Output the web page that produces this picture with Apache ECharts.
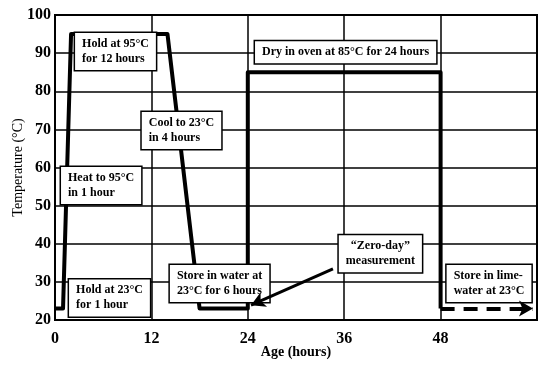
<!DOCTYPE html>
<html>
<head>
<meta charset="utf-8">
<script src="https://cdn.jsdelivr.net/npm/echarts@6/dist/echarts.min.js"></script>
<style>
  html, body { margin: 0; padding: 0; background: #fff; }
  #chart { width: 539px; height: 366px; }
</style>
</head>
<body>
<div id="chart"></div>
<script>
// Curing temperature history: age in hours vs. temperature in °C
const ageHours = [0, 1, 2, 14, 18, 24, 24, 48, 48];
const tempC    = [23, 23, 95, 95, 23, 23, 85, 85, 23];

// Continued storage after the oven stage (dashed arrow)
const storeFrom = [48, 23];
const storeTo   = [59.5, 23];

// Pointer from the "zero-day" note to the end of the water storage
const pointerFrom = [34.6, 33.4];
const pointerTo   = [24.4, 23.9];

const xTicks = [0, 12, 24, 36, 48];

// Annotation boxes: text, anchor point (hours, °C) and how the box sits on it
// ('left' = box starts at the anchor, 'center' = box centred on it)
const noteText = [
  'Hold at 95°C\nfor 12 hours',
  'Cool to 23°C\nin 4 hours',
  'Heat to 95°C\nin 1 hour',
  'Hold at 23°C\nfor 1 hour',
  'Store in water at\n23°C for 6 hours',
  'Dry in oven at 85°C for 24 hours',
  '“Zero-day”\nmeasurement',
  'Store in lime-\nwater at 23°C'
];
const noteHours = [2.5, 10.8, 0.75, 1.75, 14.3, 24.9, 40.5, 48.75];
const noteTemp  = [90.4, 69.7, 55.3, 25.8, 29.6, 90.2, 37.4, 29.6];
const noteAlign = ['left', 'left', 'left', 'left', 'left', 'left', 'center', 'left'];

const serif = '"Liberation Serif", "DejaVu Serif", serif';

const chart = echarts.init(document.getElementById('chart'), null, { renderer: 'canvas' });

const curve = ageHours.map((h, i) => [h, tempC[i]]);
const notes = noteHours.map((h, i) => ({
  value: [h, noteTemp[i]],
  label: { align: noteAlign[i] }
}));

chart.setOption({
  animation: false,
  backgroundColor: '#fff',
  grid: {
    left: 55, top: 15, right: 2, bottom: 46,
    containLabel: false, outerBoundsMode: 'none',
    show: true, borderColor: '#000', borderWidth: 2
  },
  xAxis: {
    type: 'value',
    min: 0, max: 60, interval: 12,
    name: 'Age (hours)',
    nameLocation: 'middle',
    nameGap: 25,
    nameMoveOverlap: false,
    nameTextStyle: { fontFamily: serif, fontSize: 14, fontWeight: 'bold', color: '#000' },
    axisLine: { show: true, lineStyle: { color: '#000', width: 2 } },
    axisTick: { show: false },
    axisLabel: {
      margin: 11,
      fontFamily: serif, fontSize: 16, fontWeight: 'bold', color: '#000',
      formatter: v => (xTicks.includes(v) ? String(v) : '')
    },
    splitLine: { show: true, lineStyle: { color: '#000', width: 1.5 } }
  },
  yAxis: {
    type: 'value',
    min: 20, max: 100, interval: 10,
    name: 'Temperature (°C)',
    nameLocation: 'middle',
    nameGap: 30,
    nameMoveOverlap: false,
    nameTextStyle: { fontFamily: serif, fontSize: 14, color: '#000' },
    axisLine: { show: true, lineStyle: { color: '#000', width: 2 } },
    axisTick: { show: false },
    axisLabel: { margin: 4, fontFamily: serif, fontSize: 16, fontWeight: 'bold', color: '#000' },
    splitLine: { show: true, lineStyle: { color: '#000', width: 1.5 } }
  },
  series: [
    {
      // temperature history
      type: 'line',
      data: curve,
      symbol: 'none',
      lineStyle: { color: '#000', width: 4, join: 'round' },
      z: 3
    },
    {
      // annotation boxes
      type: 'scatter',
      data: notes,
      symbolSize: 0,
      z: 5,
      itemStyle: { opacity: 1, color: '#000' },
      label: {
        show: true,
        position: 'inside',
        verticalAlign: 'middle',
        formatter: p => noteText[p.dataIndex],
        fontFamily: serif,
        fontSize: 12,
        fontWeight: 'bold',
        lineHeight: 15,
        color: '#000',
        backgroundColor: '#fff',
        borderColor: '#000',
        borderWidth: 1.5,
        padding: [4, 7, 3, 7]
      }
    },
    {
      // arrows drawn on top of the boxes
      type: 'line',
      data: [],
      z: 8,
      markLine: {
        silent: true,
        z: 8,
        symbol: ['none', 'arrow'],
        symbolSize: [12, 14],
        label: { show: false },
        data: [
          [
            { coord: storeFrom, lineStyle: { type: [14, 9], width: 4, color: '#000' } },
            { coord: storeTo }
          ],
          [
            { coord: pointerFrom, lineStyle: { type: 'solid', width: 3, color: '#000' } },
            { coord: pointerTo }
          ]
        ]
      }
    }
  ]
});
</script>
</body>
</html>
